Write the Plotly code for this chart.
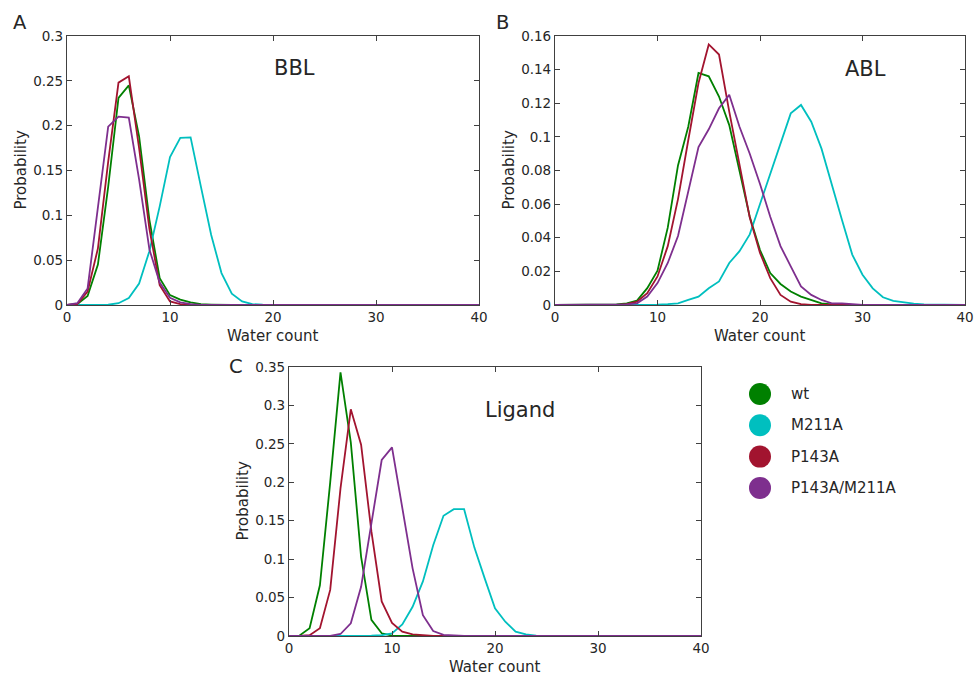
import plotly.graph_objects as go

# Water count bins shared by every histogram
water_count = list(range(0, 41))

def pad(vals):
    return vals + [0.0] * (41 - len(vals))

# ---- BBL region ----
bbl_wt = pad([0, 0.001, 0.01, 0.045, 0.132, 0.231, 0.245, 0.188, 0.095, 0.03, 0.011,
              0.006, 0.003, 0.001, 0.0005])
bbl_m211a = pad([0, 0, 0, 0, 0.0003, 0.002, 0.0078, 0.024, 0.06, 0.11, 0.165,
                 0.1865, 0.187, 0.132, 0.078, 0.0356, 0.0126, 0.004, 0.001, 0.0003])
bbl_p143a = pad([0, 0.001, 0.015, 0.063, 0.16, 0.248, 0.255, 0.175, 0.085, 0.022,
                 0.004, 0.001])
bbl_double = pad([0, 0.002, 0.0185, 0.109, 0.199, 0.21, 0.209, 0.14, 0.062, 0.025,
                  0.008, 0.003, 0.001])

# ---- ABL region ----
abl_wt = pad([0, 0, 0, 0, 0, 0, 0.0003, 0.001, 0.0026, 0.01, 0.0204, 0.046, 0.083,
              0.106, 0.138, 0.136, 0.124, 0.107, 0.080, 0.0525, 0.0327, 0.019,
              0.0125, 0.008, 0.005, 0.003, 0.001, 0.0003])
abl_m211a = pad([0, 0, 0, 0, 0, 0, 0, 0, 0, 0, 0.0002, 0.0005, 0.001, 0.003, 0.005,
                 0.01, 0.014, 0.025, 0.032, 0.042, 0.060, 0.078, 0.096, 0.114,
                 0.119, 0.109, 0.093, 0.071, 0.0505, 0.030, 0.018, 0.0099, 0.0046,
                 0.0024, 0.0014, 0.0008, 0.0004, 0.0002])
abl_p143a = pad([0, 0, 0, 0, 0, 0, 0, 0.0005, 0.002, 0.007, 0.017, 0.035, 0.063,
                 0.098, 0.132, 0.155, 0.149, 0.115, 0.083, 0.052, 0.031, 0.016,
                 0.006, 0.002, 0.0005])
abl_double = pad([0, 0, 0, 0, 0, 0, 0, 0.0003, 0.001, 0.005, 0.013, 0.025, 0.041,
                  0.068, 0.094, 0.1045, 0.117, 0.125, 0.106, 0.090, 0.072, 0.0525,
                  0.035, 0.023, 0.011, 0.006, 0.003, 0.001, 0.001, 0.0005])

# ---- Ligand ----
lig_wt = pad([0, 0.0005, 0.01, 0.066, 0.2, 0.343, 0.252, 0.103, 0.021, 0.0035,
              0.0005])
lig_m211a = pad([0, 0, 0, 0, 0, 0, 0, 0, 0.0005, 0.001, 0.0035, 0.015, 0.038,
                 0.071, 0.118, 0.1565, 0.165, 0.165, 0.115, 0.075, 0.036, 0.0186,
                 0.0056, 0.002, 0.0005])
lig_p143a = pad([0, 0, 0.001, 0.01, 0.06, 0.192, 0.295, 0.249, 0.136, 0.045, 0.017,
                 0.0056, 0.002, 0.0008, 0.0002])
lig_double = pad([0, 0, 0, 0, 0, 0.0026, 0.0165, 0.064, 0.149, 0.229, 0.2455,
                  0.164, 0.088, 0.027, 0.0065, 0.0015, 0.0003])

variants = ["wt", "M211A", "P143A", "P143A/M211A"]
colors = ["#008000", "#00BFBF", "#A2142F", "#7E2F8E"]

panels = [
    ("BBL", [bbl_wt, bbl_m211a, bbl_p143a, bbl_double], [0, 0.3], 0.05),
    ("ABL", [abl_wt, abl_m211a, abl_p143a, abl_double], [0, 0.16], 0.02),
    ("Ligand", [lig_wt, lig_m211a, lig_p143a, lig_double], [0, 0.35], 0.05),
]

W, H = 979, 679
FONT = "DejaVu Sans"
TXT = "#262626"
AX = "#404040"

def px(x):
    return x / W

def py(y):
    return 1 - y / H

def label(text, x, y, size, **kw):
    d = dict(text=text, x=px(x), y=py(y), xref="paper", yref="paper",
             xanchor="center", yanchor="middle", showarrow=False,
             font=dict(family=FONT, size=size, color=TXT))
    d.update(kw)
    return d

# plot boxes in pixels: (left, right, top, bottom)
boxes = [(67, 479, 36, 305), (555, 965, 36, 305), (289, 701, 367, 636)]

fig = go.Figure()
annotations = []
for i, ((name, series, yr, dt), (l, r, t, b)) in enumerate(zip(panels, boxes)):
    xa = "x" if i == 0 else f"x{i+1}"
    ya = "y" if i == 0 else f"y{i+1}"
    for vals, var, col in zip(series, variants, colors):
        fig.add_trace(go.Scatter(x=water_count, y=vals, mode="lines", name=var,
                                 line=dict(color=col, width=1.8), xaxis=xa, yaxis=ya,
                                 showlegend=False))
    axis_common = dict(showline=True, linecolor=AX, linewidth=1.2, mirror="ticks",
                       ticks="inside", ticklen=5, tickcolor=AX, tickwidth=1,
                       showgrid=False, zeroline=False, automargin=False,
                       tickfont=dict(family=FONT, size=13.5, color=TXT))
    fig.update_layout(**{
        ("xaxis" if i == 0 else f"xaxis{i+1}"): dict(
            domain=[px(l), px(r)], range=[0, 40], tickvals=[0, 10, 20, 30, 40],
            anchor=ya, **axis_common),
        ("yaxis" if i == 0 else f"yaxis{i+1}"): dict(
            domain=[py(b), py(t)], range=yr, dtick=dt, tick0=0,
            anchor=xa, **axis_common),
    })
    cx = (l + r) / 2
    cy = (t + b) / 2
    annotations.append(label("Water count", cx, b + 31, 15))
    annotations.append(label("Probability", l - 47, cy, 15, textangle=-90))

# panel titles
for text, x, y in [("BBL", 294, 68), ("ABL", 865, 69), ("Ligand", 520, 410)]:
    annotations.append(label(text, x, y, 21))

# panel letters
for text, x, y in [("A", 20, 23), ("B", 502, 23), ("C", 236, 366)]:
    annotations.append(label(text, x, y, 19.5))

# legend: filled circles with labels
shapes = []
for k, (var, col) in enumerate(zip(variants, colors)):
    yc = 394 + k * 31.3
    shapes.append(dict(type="circle", xref="paper", yref="paper",
                       xsizemode="pixel", ysizemode="pixel",
                       xanchor=px(760), yanchor=py(yc),
                       x0=-11, x1=11, y0=-11, y1=11,
                       fillcolor=col, line=dict(color=col, width=0)))
    annotations.append(label(var, 789, yc, 15, xanchor="left"))

fig.update_layout(width=W, height=H,
                  margin=dict(l=0, r=0, t=0, b=0, pad=0, autoexpand=False),
                  paper_bgcolor="white", plot_bgcolor="white",
                  annotations=annotations, shapes=shapes, showlegend=False)

fig.write_html("out.html")
